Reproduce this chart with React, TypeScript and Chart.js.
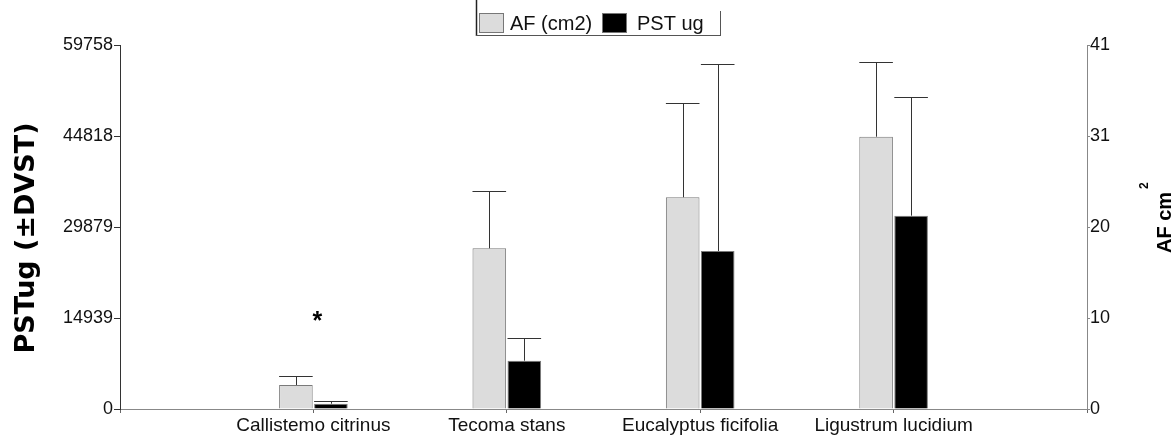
import React, { useEffect, useRef } from 'react';
import { Chart, registerables } from 'chart.js';

Chart.register(...registerables);

// ---- data ----
const categories = ['', 'Callistemo citrinus', 'Tecoma stans', 'Eucalyptus ficifolia', 'Ligustrum lucidium', ''];
const afMean = [null, 2.7, 18.1, 23.85, 30.67, null];
const afSD = [null, 0.98, 6.5, 10.6, 8.4, null];
const pstMean = [null, 870, 7930, 25940, 31740, null];
const pstSD = [null, 394, 3770, 30650, 19530, null];
const pstTicks = [0, 14939, 29879, 44818, 59758];
const afTickValues = [0, 10.25, 20.5, 30.75, 41];
const afTickLabels = ['0', '10', '20', '31', '41'];
const markCategory = 1;
const markValue = 15100;
const markText = '*';
const seriesLabels = ['AF (cm2)', 'PST ug'];
const leftTitle = 'PSTug (±DVST)';
const rightTitle = 'AF cm';
const rightTitleSup = '2';

const FONT = '"Liberation Sans", Arial, sans-serif';

const errorBarPlugin = {
  id: 'errorBars',
  afterDatasetsDraw(chart: any) {
    const ctx = chart.ctx;
    chart.data.datasets.forEach((ds: any, i: number) => {
      const meta = chart.getDatasetMeta(i);
      const scale = chart.scales[meta.yAxisID];
      meta.data.forEach((bar: any, j: number) => {
        const m = ds.data[j];
        const s = ds.errors[j];
        if (m == null || s == null) return;
        const x = Math.round(bar.x) + 0.5;
        const yTop = Math.round(scale.getPixelForValue(m + s)) + 0.5;
        const half = bar.width / 2;
        ctx.save();
        ctx.strokeStyle = ds.errorColor;
        ctx.lineWidth = 1;
        ctx.beginPath();
        ctx.moveTo(x, bar.y);
        ctx.lineTo(x, yTop);
        ctx.moveTo(bar.x - half, yTop);
        ctx.lineTo(bar.x + half, yTop);
        ctx.stroke();
        ctx.restore();
      });
    });
  },
};

const decorPlugin = {
  id: 'decor',
  afterDraw(chart: any) {
    const ctx = chart.ctx;
    ctx.save();
    // legend frame
    ctx.strokeStyle = '#222';
    ctx.lineWidth = 1.5;
    ctx.beginPath();
    ctx.moveTo(476.5, 0);
    ctx.lineTo(476.5, 36);
    ctx.stroke();
    ctx.strokeStyle = '#555';
    ctx.lineWidth = 1;
    ctx.beginPath();
    ctx.moveTo(476, 35.5);
    ctx.lineTo(721, 35.5);
    ctx.moveTo(720.5, 11);
    ctx.lineTo(720.5, 36);
    ctx.stroke();
    // legend items
    const boxX = [479, 602];
    const textX = [510, 637];
    chart.data.datasets.forEach((ds: any, i: number) => {
      ctx.fillStyle = ds.backgroundColor;
      ctx.fillRect(boxX[i], 13, 25, 20);
      ctx.strokeStyle = '#777';
      ctx.lineWidth = 1;
      ctx.strokeRect(boxX[i] + 0.5, 13.5, 24, 19);
      ctx.fillStyle = '#111';
      ctx.font = `20px ${FONT}`;
      ctx.textAlign = 'left';
      ctx.textBaseline = 'middle';
      ctx.fillText(ds.label, textX[i], 24);
    });
    // left title
    ctx.save();
    ctx.font = `bold 27px "DejaVu Sans", sans-serif`;
    ctx.fillStyle = '#000';
    ctx.translate(34, 238);
    ctx.rotate(-Math.PI / 2);
    ctx.textAlign = 'center';
    ctx.textBaseline = 'alphabetic';
    ctx.fillText(leftTitle, 0, 0);
    ctx.restore();
    // right title
    ctx.save();
    ctx.font = `bold 20px ${FONT}`;
    ctx.fillStyle = '#000';
    ctx.translate(1171, 253);
    ctx.rotate(-Math.PI / 2);
    ctx.textAlign = 'left';
    ctx.textBaseline = 'alphabetic';
    ctx.fillText(rightTitle, 0, 0);
    const w = ctx.measureText(rightTitle).width;
    ctx.font = `bold 12px ${FONT}`;
    ctx.fillText(rightTitleSup, w + 3, -23);
    ctx.restore();
    // significance mark
    const mx = chart.scales.x.getPixelForValue(markCategory) + 4;
    const my = chart.scales.y.getPixelForValue(markValue);
    ctx.font = `bold 25px ${FONT}`;
    ctx.fillStyle = '#000';
    ctx.textAlign = 'center';
    ctx.textBaseline = 'alphabetic';
    ctx.fillText(markText, mx, my + 12);
    ctx.restore();
  },
};

export default function App() {
  const ref = useRef<HTMLCanvasElement>(null);
  useEffect(() => {
    const chart = new Chart(ref.current as HTMLCanvasElement, {
      type: 'bar',
      data: {
        labels: categories,
        datasets: [
          {
            label: seriesLabels[0],
            data: afMean,
            errors: afSD,
            errorColor: '#333',
            yAxisID: 'y1',
            backgroundColor: '#dcdcdc',
            borderColor: '#7a7a7a',
            borderWidth: 1,
          } as any,
          {
            label: seriesLabels[1],
            data: pstMean,
            errors: pstSD,
            errorColor: '#333',
            yAxisID: 'y',
            backgroundColor: '#000000',
            borderColor: '#7a7a7a',
            borderWidth: 1,
          } as any,
        ],
      },
      options: {
        responsive: true,
        maintainAspectRatio: false,
        animation: false,
        categoryPercentage: 0.362,
        barPercentage: 0.96,
        layout: { padding: { top: 45, left: 0, right: 0, bottom: 0 } },
        plugins: { legend: { display: false }, tooltip: { enabled: false }, title: { display: false } },
        scales: {
          x: {
            type: 'category',
            offset: false,
            grid: { display: true, offset: false, drawOnChartArea: false, drawTicks: true, tickLength: 4, color: '#666' },
            border: { display: true, color: '#888', width: 1 },
            ticks: { autoSkip: false, maxRotation: 0, minRotation: 0, padding: 1, color: '#111', font: { size: 19, family: FONT } },
            afterFit: (s: any) => { s.height = 27; },
          },
          y: {
            type: 'linear',
            position: 'left',
            min: 0,
            max: pstTicks[pstTicks.length - 1],
            afterBuildTicks: (s: any) => { s.ticks = pstTicks.map((v) => ({ value: v })); },
            ticks: { callback: (v: any) => String(v), padding: 1, color: '#111', font: { size: 18, family: FONT } },
            grid: { drawOnChartArea: false, drawTicks: true, tickLength: 6, color: '#333' },
            border: { display: true, color: '#333', width: 1 },
            afterFit: (s: any) => { s.width = 120; },
          },
          y1: {
            type: 'linear',
            position: 'right',
            min: 0,
            max: afTickValues[afTickValues.length - 1],
            afterBuildTicks: (s: any) => { s.ticks = afTickValues.map((v) => ({ value: v })); },
            ticks: { callback: (_v: any, i: number) => afTickLabels[i], padding: 0, color: '#111', font: { size: 18, family: FONT } },
            grid: { drawOnChartArea: false, drawTicks: true, tickLength: 3, color: '#888' },
            border: { display: true, color: '#888', width: 1 },
            afterFit: (s: any) => { s.width = 85; },
          },
        },
      } as any,
      plugins: [errorBarPlugin, decorPlugin],
    });
    return () => chart.destroy();
  }, []);
  return (
    <div style={{ position: 'absolute', left: 0, top: 0, width: 1172, height: 436, background: '#fff' }}>
      <canvas ref={ref} style={{ display: 'block' }} />
    </div>
  );
}
